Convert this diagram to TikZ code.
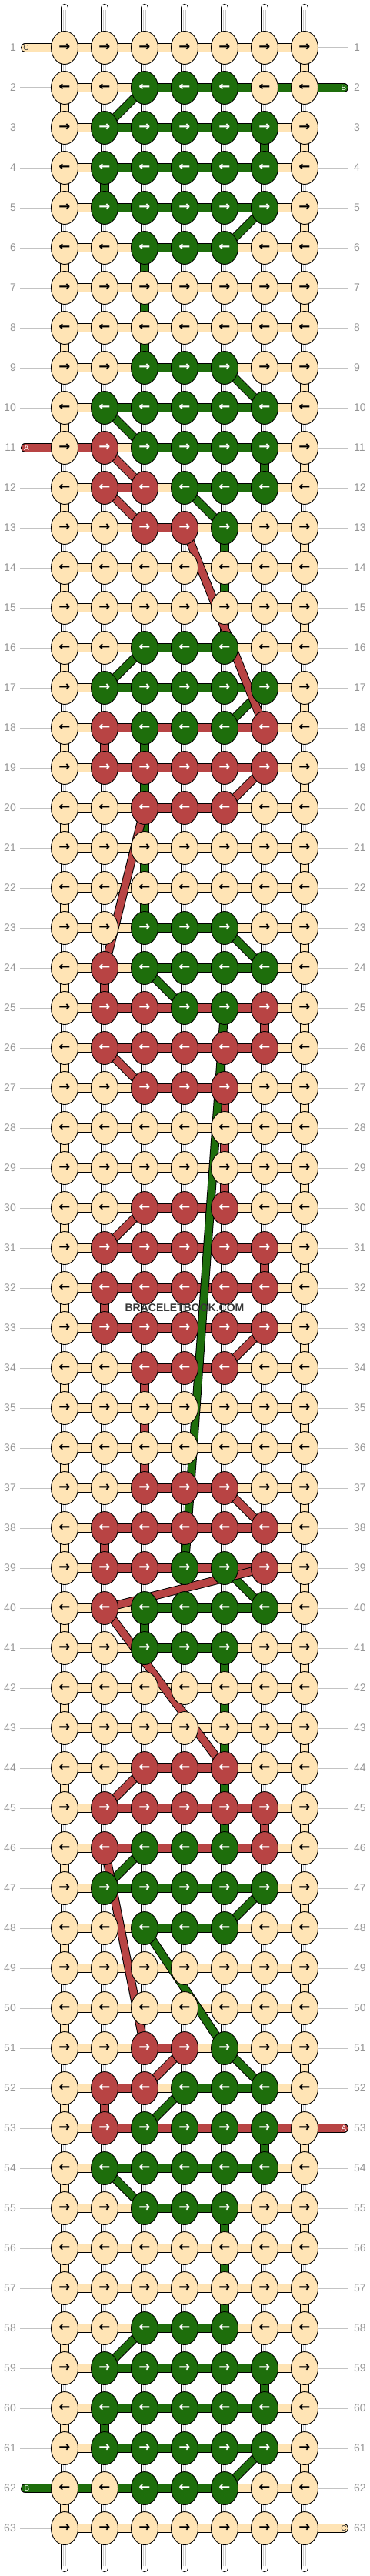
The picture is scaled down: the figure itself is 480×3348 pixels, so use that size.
\documentclass[tikz,border=0pt]{standalone}
\usepackage{fontspec}
\setmainfont{Liberation Sans}
\newfontfamily\arrowfont{DejaVu Sans}
\usetikzlibrary{shapes.geometric}
\definecolor{colT}{RGB}{255,228,181}
\definecolor{colG}{RGB}{30,110,12}
\definecolor{colR}{RGB}{184,68,68}
\colorlet{txtT}{black}
\colorlet{txtG}{white}
\colorlet{txtR}{white}
\definecolor{numc}{RGB}{150,150,150}
\definecolor{rulec}{RGB}{195,195,195}
\definecolor{warpg}{RGB}{205,205,205}
\definecolor{wmc}{RGB}{55,55,55}
\definecolor{endc}{RGB}{50,50,50}
\pgfdeclarelayer{bgfill}
\pgfdeclarelayer{warp}
\pgfdeclarelayer{links}
\pgfdeclarelayer{diag}
\pgfsetlayers{bgfill,warp,links,diag,main}
\tikzset{
  knot/.style={ellipse, draw=black, line width=0.9pt, fill=col#1, text=txt#1,
    minimum width=35pt, minimum height=43pt, inner sep=0pt,
    font=\arrowfont\bfseries\fontsize{18}{18}\selectfont},
  strand/.style={draw=black, line width=1pt, double=col#1, double distance=9.3pt},
  numlbl/.style={text=numc, font=\fontsize{14}{14}\selectfont, inner sep=0pt},
  endlbl/.style={font=\fontsize{10}{10}\selectfont, inner sep=0pt},
  rowrule/.style={draw=rulec, line width=1pt},
}
\begin{document}
\begin{tikzpicture}[x=1pt,y=-1pt]
\begin{pgfonlayer}{bgfill}
\fill[white] (0,0) rectangle (480,3348);
\end{pgfonlayer}
\useasboundingbox (0,0) rectangle (480,3348);
% ---------------- knots
\foreach \r/\ka/\kb/\kc/\kd/\ke/\kf/\kg in {
1/T/T/T/T/T/T/T, 2/T/T/G/G/G/T/T, 3/T/G/G/G/G/G/T, 4/T/G/G/G/G/G/T,
5/T/G/G/G/G/G/T, 6/T/T/G/G/G/T/T, 7/T/T/T/T/T/T/T, 8/T/T/T/T/T/T/T,
9/T/T/G/G/G/T/T, 10/T/G/G/G/G/G/T, 11/T/R/G/G/G/G/T, 12/T/R/R/G/G/G/T,
13/T/T/R/R/G/T/T, 14/T/T/T/T/T/T/T, 15/T/T/T/T/T/T/T, 16/T/T/G/G/G/T/T,
17/T/G/G/G/G/G/T, 18/T/R/G/G/G/R/T, 19/T/R/R/R/R/R/T, 20/T/T/R/R/R/T/T,
21/T/T/T/T/T/T/T, 22/T/T/T/T/T/T/T, 23/T/T/G/G/G/T/T, 24/T/R/G/G/G/G/T,
25/T/R/R/G/G/R/T, 26/T/R/R/R/R/R/T, 27/T/T/R/R/R/T/T, 28/T/T/T/T/T/T/T,
29/T/T/T/T/T/T/T, 30/T/T/R/R/R/T/T, 31/T/R/R/R/R/R/T, 32/T/R/R/R/R/R/T,
33/T/R/R/R/R/R/T, 34/T/T/R/R/R/T/T, 35/T/T/T/T/T/T/T, 36/T/T/T/T/T/T/T,
37/T/T/R/R/R/T/T, 38/T/R/R/R/R/R/T, 39/T/R/R/G/G/R/T, 40/T/R/G/G/G/G/T,
41/T/T/G/G/G/T/T, 42/T/T/T/T/T/T/T, 43/T/T/T/T/T/T/T, 44/T/T/R/R/R/T/T,
45/T/R/R/R/R/R/T, 46/T/R/G/G/G/R/T, 47/T/G/G/G/G/G/T, 48/T/T/G/G/G/T/T,
49/T/T/T/T/T/T/T, 50/T/T/T/T/T/T/T, 51/T/T/R/R/G/T/T, 52/T/R/R/G/G/G/T,
53/T/R/G/G/G/G/T, 54/T/G/G/G/G/G/T, 55/T/T/G/G/G/T/T, 56/T/T/T/T/T/T/T,
57/T/T/T/T/T/T/T, 58/T/T/G/G/G/T/T, 59/T/G/G/G/G/G/T, 60/T/G/G/G/G/G/T,
61/T/G/G/G/G/G/T, 62/T/T/G/G/G/T/T, 63/T/T/T/T/T/T/T} {
  \pgfmathsetmacro\yy{10+52*\r}
  \ifodd\r \def\arr{→}\else \def\arr{←}\fi
  \foreach \cc/\kk in {1/\ka,2/\kb,3/\kc,4/\kd,5/\ke,6/\kf,7/\kg} {
    \pgfmathsetmacro\xx{32+52*\cc}
    \node[knot=\kk] (k-\r-\cc) at (\xx,\yy) {\arr};
  }
}
% ---------------- row numbers
\foreach \r in {1,...,63} {
  \pgfmathsetmacro\yy{10+52*\r}
  \node[numlbl, anchor=east] (nl-\r) at (21,\yy) {\r};
  \node[numlbl, anchor=west] (nr-\r) at (460,\yy) {\r};
  \coordinate (rl-\r) at (26,\yy);
  \coordinate (rr-\r) at (453,\yy);
}
% ---------------- warp strings and row rules
\begin{pgfonlayer}{warp}
\foreach \cc in {1,...,7} {
  \pgfmathsetmacro\xx{32+52*\cc}
  \coordinate (wt-\cc) at (\xx,10);
  \coordinate (wb-\cc) at (\xx,3338);
  \draw[line width=10.3pt, line cap=round, black] (wt-\cc) -- (wb-\cc);
  \draw[line width=8.3pt, line cap=round, white] (wt-\cc) -- (wb-\cc);
  \draw[line width=4.5pt, warpg, shorten <=3pt, shorten >=3pt] (wt-\cc) -- (wb-\cc);
  \draw[line width=2.5pt, white, shorten <=2pt, shorten >=2pt] (wt-\cc) -- (wb-\cc);
}
\foreach \r in {1,...,63} {
  \ifnum\r=1 \else\ifnum\r=11 \else\ifnum\r=62 \else
    \draw[rowrule] (rl-\r) -- (k-\r-1.center);
  \fi\fi\fi
  \ifnum\r=2 \else\ifnum\r=53 \else\ifnum\r=63 \else
    \draw[rowrule] (k-\r-7.center) -- (rr-\r);
  \fi\fi\fi
}
\end{pgfonlayer}
% ---------------- horizontal strands
\begin{pgfonlayer}{links}
\foreach \r/\ha/\hb/\hc/\hd/\he/\hf in {
1/T/T/T/T/T/T, 2/T/T/G/G/G/G, 3/T/G/G/G/G/T, 4/T/G/G/G/G/T,
5/T/G/G/G/G/T, 6/T/T/G/G/T/T, 7/T/T/T/T/T/T, 8/T/T/T/T/T/T,
9/T/T/G/G/T/T, 10/T/G/G/G/G/T, 11/R/T/G/G/G/T, 12/T/R/T/G/G/T,
13/T/T/R/T/T/T, 14/T/T/T/T/T/T, 15/T/T/T/T/T/T, 16/T/T/G/G/T/T,
17/T/G/G/G/G/T, 18/T/R/R/R/R/T, 19/T/R/R/R/R/T, 20/T/T/R/R/T/T,
21/T/T/T/T/T/T, 22/T/T/T/T/T/T, 23/T/T/G/G/T/T, 24/T/T/G/G/G/T,
25/T/R/R/R/R/T, 26/T/R/R/R/R/T, 27/T/T/R/R/T/T, 28/T/T/T/T/T/T,
29/T/T/T/T/T/T, 30/T/T/R/R/T/T, 31/T/R/R/R/R/T, 32/T/R/R/R/R/T,
33/T/R/R/R/R/T, 34/T/T/R/R/T/T, 35/T/T/T/T/T/T, 36/T/T/T/T/T/T,
37/T/T/R/R/T/T, 38/T/R/R/R/R/T, 39/T/R/R/R/R/T, 40/T/T/G/G/G/T,
41/T/T/G/G/T/T, 42/T/T/T/T/T/T, 43/T/T/T/T/T/T, 44/T/T/R/R/T/T,
45/T/R/R/R/R/T, 46/T/R/R/R/R/T, 47/T/G/G/G/G/T, 48/T/T/G/G/T/T,
49/T/T/T/T/T/T, 50/T/T/T/T/T/T, 51/T/T/R/T/T/T, 52/T/R/T/G/G/T,
53/T/R/R/R/R/R, 54/T/G/G/G/G/T, 55/T/T/G/G/T/T, 56/T/T/T/T/T/T,
57/T/T/T/T/T/T, 58/T/T/G/G/T/T, 59/T/G/G/G/G/T, 60/T/G/G/G/G/T,
61/T/G/G/G/G/T, 62/G/G/G/G/T/T, 63/T/T/T/T/T/T} {
  \foreach \cc/\ss in {1/\ha,2/\hb,3/\hc,4/\hd,5/\he,6/\hf} {
    \pgfmathtruncatemacro\cn{\cc+1}
    \draw[strand=\ss] (k-\r-\cc.center) -- (k-\r-\cn.center);
  }
}
% end strands
\coordinate (eL-1) at (32.6,62);
\coordinate (eR-2) at (447.4,114);
\coordinate (eL-11) at (32.6,582);
\coordinate (eR-53) at (447.4,2766);
\coordinate (eL-62) at (32.6,3234);
\coordinate (eR-63) at (447.4,3286);
\draw[strand=T, line cap=round] (eL-1) -- (k-1-1.center);
\draw[strand=G, line cap=round] (eR-2) -- (k-2-7.center);
\draw[strand=R, line cap=round] (eL-11) -- (k-11-1.center);
\draw[strand=R, line cap=round] (eR-53) -- (k-53-7.center);
\draw[strand=G, line cap=round] (eL-62) -- (k-62-1.center);
\draw[strand=T, line cap=round] (eR-63) -- (k-63-7.center);
% vertical strands: tan edges
\foreach \r in {1,...,62} {
  \pgfmathtruncatemacro\rn{\r+1}
  \ifodd\r \def\vc{7}\else \def\vc{1}\fi
  \draw[strand=T] (k-\r-\vc.center) -- (k-\rn-\vc.center);
}
% vertical strands: green
\foreach \r/\cc in {3/6,4/2,6/3,7/3,8/3,11/6,13/5,14/5,15/5,18/3,19/3,20/3,21/3,22/3,
  40/3,41/5,42/5,43/5,44/5,45/5,53/6,55/5,56/5,57/5,59/6,60/2} {
  \pgfmathtruncatemacro\rn{\r+1}
  \draw[strand=G] (k-\r-\cc.center) -- (k-\rn-\cc.center);
}
% vertical strands: red
\foreach \r/\cc in {18/2,24/2,25/6,27/5,28/5,29/5,31/6,32/2,34/3,35/3,36/3,38/2,45/6,52/2} {
  \pgfmathtruncatemacro\rn{\r+1}
  \draw[strand=R] (k-\r-\cc.center) -- (k-\rn-\cc.center);
}
\end{pgfonlayer}
% ---------------- diagonal strands
\begin{pgfonlayer}{diag}
\foreach \ra/\ca/\rb/\cb/\sc in {
2/3/3/2/G, 5/6/6/5/G, 9/5/10/6/G, 10/2/11/3/G, 12/4/13/5/G, 16/3/17/2/G,
17/6/18/5/G, 23/5/24/6/G, 24/3/25/4/G, 39/5/40/6/G, 46/3/47/2/G, 47/6/48/5/G,
51/5/52/6/G, 52/4/53/3/G, 54/2/55/3/G, 58/3/59/2/G, 61/6/62/5/G,
25/5/39/4/G, 48/3/51/5/G,
11/2/12/3/R, 12/2/13/3/R, 19/6/20/5/R, 26/2/27/3/R, 30/3/31/2/R, 33/6/34/5/R,
37/5/38/6/R, 44/3/45/2/R, 51/4/52/3/R,
13/4/18/6/R, 20/3/24/2/R, 39/6/40/2/R, 40/2/44/5/R, 46/2/51/3/R} {
  \draw[strand=\sc] (k-\ra-\ca.center) -- (k-\rb-\cb.center);
}
\end{pgfonlayer}
% ---------------- end labels
\node[endlbl, text=endc] (lC-1) at (34,62) {C};
\node[endlbl, text=white] (lB-2) at (447,114) {B};
\node[endlbl, text=white] (lA-11) at (34.5,582) {A};
\node[endlbl, text=white] (lA-53) at (447,2766) {A};
\node[endlbl, text=white] (lB-62) at (35,3234) {B};
\node[endlbl, text=endc] (lC-63) at (447,3286) {C};
% ---------------- watermark
\node[font=\bfseries\fontsize{14}{14}\selectfont, text=wmc, inner sep=0pt] (wm) at (240,1700) {BRACELETBOOK.COM};
\end{tikzpicture}
\end{document}
